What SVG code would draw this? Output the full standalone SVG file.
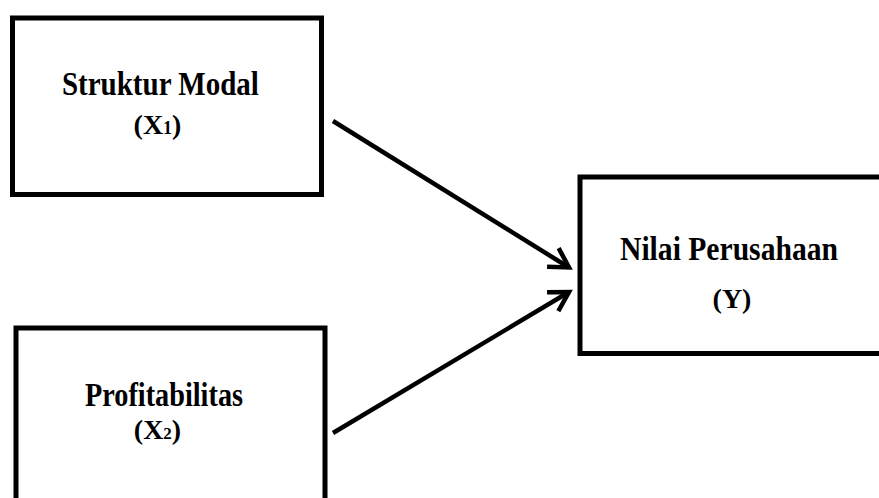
<svg xmlns="http://www.w3.org/2000/svg" width="879" height="498" viewBox="0 0 879 498">
  <style>
    .box { fill: #fff; stroke: #000; stroke-width: 5; }
    .lbl { font-family: "Liberation Serif", "Times New Roman", serif; font-weight: bold; font-size: 34px; fill: #000; text-anchor: middle; }
    .var { font-family: "Liberation Serif", "Times New Roman", serif; font-weight: bold; font-size: 28px; fill: #000; text-anchor: middle; }
    .conn { fill: none; stroke: #000; stroke-width: 4.5; }
  </style>
  <defs>
    <marker id="ah" markerUnits="userSpaceOnUse" markerWidth="40" markerHeight="40" viewBox="-25 -20 40 40" refX="0" refY="0" orient="auto" overflow="visible">
      <path d="M-19,-11 L0,0 L-19,11" fill="none" stroke="#000" stroke-width="4.5" stroke-linejoin="miter"/>
    </marker>
  </defs>
  <rect width="879" height="498" fill="#fff"/>
  <g id="node-x1">
    <rect class="box" x="12.5" y="18" width="309" height="176.5"/>
    <text class="lbl" x="160.4" y="94.5" textLength="197" lengthAdjust="spacingAndGlyphs">Struktur Modal</text>
    <text class="var" x="157.5" y="133.5">(X<tspan font-size="18">1</tspan>)</text>
  </g>
  <g id="node-x2">
    <rect class="box" x="16" y="328" width="309" height="185"/>
    <text class="lbl" x="164" y="406" textLength="158" lengthAdjust="spacingAndGlyphs">Profitabilitas</text>
    <text class="var" x="157.5" y="439" font-size="26">(X<tspan font-size="17">2</tspan>)</text>
  </g>
  <g id="node-y">
    <rect class="box" x="580" y="177" width="320" height="176.5"/>
    <text class="lbl" x="729" y="260" textLength="218" lengthAdjust="spacingAndGlyphs">Nilai Perusahaan</text>
    <text class="var" x="732" y="308">(Y)</text>
  </g>
  <g id="connectors">
    <line class="conn" x1="333" y1="121" x2="569" y2="267.5" marker-end="url(#ah)"/>
    <line class="conn" x1="333" y1="433" x2="569" y2="292" marker-end="url(#ah)"/>
  </g>
</svg>
